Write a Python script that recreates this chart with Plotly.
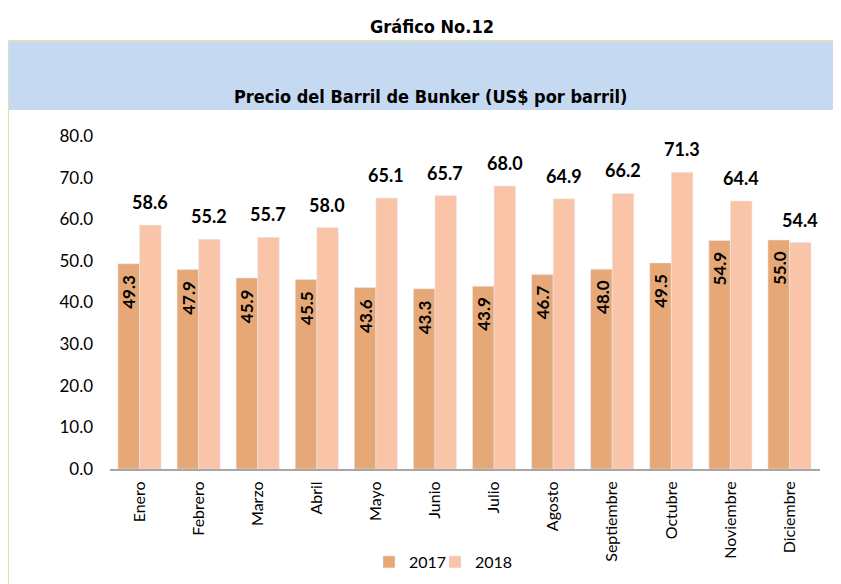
import plotly.graph_objects as go

months = ["Enero", "Febrero", "Marzo", "Abril", "Mayo", "Junio", "Julio",
          "Agosto", "Septiembre", "Octubre", "Noviembre", "Diciembre"]
v2017 = [49.3, 47.9, 45.9, 45.5, 43.6, 43.3, 43.9, 46.7, 48.0, 49.5, 54.9, 55.0]
v2018 = [58.6, 55.2, 55.7, 58.0, 65.1, 65.7, 68.0, 64.9, 66.2, 71.3, 64.4, 54.4]
yticks = [0, 10, 20, 30, 40, 50, 60, 70, 80]

W, H = 841, 584
OFF = 8  # page body margin offset
# target plot area in screenshot coords
X0, X1, Y0, Y1 = 110, 820, 136, 469
L = X0 - OFF
T = Y0 - OFF
R = W - (X1 - OFF)
B = H - (Y1 - OFF)
pw, ph = W - L - R, H - T - B

def px(x):
    return (x - OFF - L) / pw

def py(y):
    return (H - B - (y - OFF)) / ph

narrow = "DejaVu Sans Condensed, Liberation Sans Narrow, Arial Narrow, sans-serif"
cal = "Lato, Carlito, Calibri, sans-serif"

fig = go.Figure()
fig.add_bar(x=months, y=v2017, name="2017", marker_color="#E6A877", legend="legend")
fig.add_bar(x=months, y=v2018, name="2018", marker_color="#F9C4A8", legend="legend2")

ann = [
    dict(text="<b>Gráfico No.12</b>", xref="paper", yref="paper",
         x=px(432), y=py(27), xanchor="center", yanchor="middle", showarrow=False,
         font=dict(family=narrow, size=18, color="black")),
    dict(text="<b>Precio del Barril de Bunker (US$ por barril)</b>", xref="paper", yref="paper",
         x=px(430), y=py(96), xanchor="center", yanchor="middle", showarrow=False,
         font=dict(family=narrow, size=18, color="black")),
]
for m, v in zip(months, v2017):
    ann.append(dict(text=f"<b>{v:.1f}</b>", x=m, y=v, xref="x", yref="y",
                    xshift=-10.5, yshift=-9, xanchor="center", yanchor="top",
                    textangle=-90, showarrow=False,
                    font=dict(family=cal, size=17, color="black")))
for m, v in zip(months, v2018):
    ann.append(dict(text=f"<b>{v:.1f}</b>", x=m, y=v, xref="x", yref="y",
                    xshift=10.5, yshift=10, xanchor="center", yanchor="bottom",
                    showarrow=False,
                    font=dict(family=cal, size=18, color="black")))

leg_common = dict(orientation="h", yanchor="middle", y=py(562), xanchor="left",
                  font=dict(family=cal, size=16, color="black"),
                  itemwidth=30, bgcolor="rgba(0,0,0,0)")

fig.update_layout(
    width=W, height=H,
    margin=dict(l=L, r=R, t=T, b=B, autoexpand=False),
    paper_bgcolor="white", plot_bgcolor="white",
    barmode="group", bargap=0.27, bargroupgap=0,
    showlegend=True,
    legend=dict(x=px(369), **leg_common),
    legend2=dict(x=px(435), **leg_common),
    shapes=[
        dict(type="rect", xref="paper", yref="paper",
             x0=px(8), x1=px(860), y0=py(620), y1=py(41),
             line=dict(color="#D7E4BD", width=2), fillcolor="rgba(0,0,0,0)", layer="below"),
        dict(type="rect", xref="paper", yref="paper",
             x0=px(9), x1=px(860), y0=py(110), y1=py(42),
             line=dict(width=0), fillcolor="#C5D9F1", layer="below"),
    ],
    annotations=ann,
)
fig.update_xaxes(showline=True, linecolor="#A6A6A6", linewidth=2, ticks="",
                 tickangle=-90, tickfont=dict(family=cal, size=16, color="black"),
                 showgrid=False, ticklabelstandoff=4)
fig.update_yaxes(range=[0, 80], tickvals=yticks, ticktext=[f"{v:.1f}" for v in yticks],
                 showgrid=False, zeroline=False, showline=False, ticks="",
                 tickfont=dict(family=cal, size=17, color="black"), ticklabelstandoff=16)

fig.write_html("out.html")
